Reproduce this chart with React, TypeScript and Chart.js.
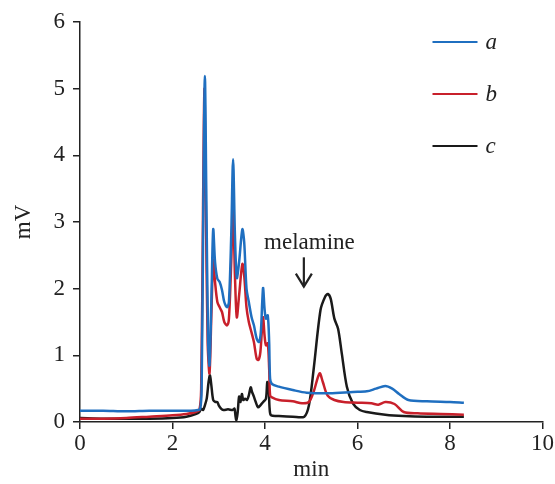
import React, { useEffect, useRef } from "react";
import { Chart, registerables } from "chart.js";

Chart.register(...registerables);

const timeA = [0, 0.5, 1, 1.5, 2, 2.4, 2.55, 2.6, 2.63, 2.67, 2.7, 2.73, 2.77, 2.8, 2.84, 2.88, 2.92, 2.97, 3.02, 3.07, 3.12, 3.18, 3.22, 3.27, 3.31, 3.35, 3.39, 3.44, 3.51, 3.55, 3.6, 3.65, 3.71, 3.76, 3.82, 3.87, 3.91, 3.94, 3.96, 3.99, 4.02, 4.06, 4.09, 4.11, 4.15, 4.3, 4.6, 4.9, 5.4, 5.9, 6.2, 6.4, 6.6, 6.75, 6.9, 7.1, 7.5, 8.0, 8.3];
const valuesA = [0.17, 0.17, 0.16, 0.17, 0.17, 0.17, 0.18, 0.2, 0.5, 3.5, 5.19, 3.5, 1.2, 0.85, 1.8, 2.89, 2.4, 2.15, 2.1, 1.98, 1.8, 1.72, 1.8, 2.8, 3.94, 2.8, 2.16, 2.4, 2.89, 2.7, 2.0, 1.8, 1.57, 1.45, 1.25, 1.2, 1.35, 1.8, 2.01, 1.7, 1.55, 1.6, 1.2, 0.65, 0.57, 0.53, 0.48, 0.44, 0.43, 0.45, 0.46, 0.5, 0.54, 0.5, 0.42, 0.33, 0.31, 0.3, 0.29];

const timeB = [0, 0.5, 1, 1.5, 2, 2.3, 2.5, 2.58, 2.62, 2.66, 2.69, 2.72, 2.76, 2.8, 2.84, 2.88, 2.92, 2.97, 3.02, 3.07, 3.12, 3.18, 3.22, 3.27, 3.31, 3.35, 3.39, 3.44, 3.51, 3.55, 3.6, 3.65, 3.71, 3.76, 3.82, 3.86, 3.9, 3.94, 3.96, 3.99, 4.02, 4.06, 4.09, 4.11, 4.15, 4.3, 4.6, 4.8, 4.95, 5.05, 5.18, 5.25, 5.35, 5.5, 5.7, 6.0, 6.3, 6.45, 6.6, 6.8, 7.0, 7.3, 7.8, 8.3];
const valuesB = [0.05, 0.05, 0.06, 0.08, 0.1, 0.12, 0.15, 0.18, 0.5, 3.2, 5.0, 3.3, 1.2, 0.73, 1.6, 2.43, 2.1, 1.8, 1.72, 1.65, 1.5, 1.45, 1.55, 2.4, 3.25, 2.2, 1.57, 1.9, 2.37, 2.2, 1.72, 1.5, 1.34, 1.2, 0.95, 0.93, 1.05, 1.45, 1.57, 1.3, 1.15, 1.18, 0.8, 0.4, 0.37, 0.33, 0.31, 0.28, 0.3, 0.45, 0.73, 0.6, 0.4, 0.33, 0.3, 0.29, 0.28, 0.26, 0.3, 0.27, 0.15, 0.13, 0.12, 0.11];

const timeC = [0, 0.5, 1, 1.5, 2, 2.3, 2.5, 2.58, 2.62, 2.66, 2.7, 2.74, 2.78, 2.81, 2.84, 2.88, 2.93, 2.97, 3.0, 3.05, 3.1, 3.2, 3.3, 3.34, 3.36, 3.38, 3.41, 3.44, 3.47, 3.5, 3.53, 3.57, 3.61, 3.65, 3.69, 3.72, 3.76, 3.8, 3.85, 3.9, 3.96, 4.02, 4.05, 4.08, 4.1, 4.13, 4.3, 4.6, 4.85, 4.95, 5.05, 5.2, 5.3, 5.36, 5.42, 5.5, 5.58, 5.66, 5.77, 5.9, 6.05, 6.2, 6.6, 7.0, 7.5, 8.3];
const valuesC = [0.06, 0.05, 0.05, 0.05, 0.06, 0.08, 0.12, 0.15, 0.2, 0.18, 0.25, 0.35, 0.6, 0.7, 0.55, 0.33, 0.3, 0.3, 0.25, 0.2, 0.18, 0.19, 0.18, 0.2, 0.1, 0.03, 0.15, 0.38, 0.3, 0.42, 0.33, 0.35, 0.33, 0.4, 0.52, 0.45, 0.38, 0.3, 0.22, 0.25, 0.3, 0.35, 0.6, 0.5, 0.2, 0.1, 0.09, 0.08, 0.08, 0.25, 0.78, 1.68, 1.88, 1.92, 1.85, 1.55, 1.4, 1.03, 0.53, 0.28, 0.18, 0.15, 0.11, 0.09, 0.08, 0.08];

const seriesLabels = ["a", "b", "c"];
const seriesColors = ["#1f6fc0", "#c8202b", "#1a1a1a"];
const xTicks = [0, 2, 4, 6, 8, 10];
const yTicks = [0, 1, 2, 3, 4, 5, 6];
const annotationText = "melamine";
const annotationX = [4.96, 4.84]; // text centre, arrow x (min)
const annotationY = [2.59, 2.47, 2.03]; // text baseline, arrow top, arrow tip (mV)

const FONT = "\"Liberation Serif\", \"Times New Roman\", Times, serif";

const toPoints = (t: number[], v: number[]) => t.map((x, i) => ({ x, y: v[i] }));

const overlayPlugin = {
  id: "overlay",
  afterDraw(chart: any) {
    const ctx = chart.ctx;
    const xs = chart.scales.x;
    const ys = chart.scales.y;
    ctx.save();
    const area = chart.chartArea;
    const lx0 = area.right - 110;
    const lx1 = lx0 + 45;
    seriesLabels.forEach((lab, i) => {
      const y = area.top + 20 + i * 52;
      ctx.strokeStyle = seriesColors[i];
      ctx.lineWidth = 2.2;
      ctx.beginPath();
      ctx.moveTo(lx0, y);
      ctx.lineTo(lx1, y);
      ctx.stroke();
      ctx.fillStyle = "#222";
      ctx.font = "italic 23px " + FONT;
      ctx.textAlign = "left";
      ctx.textBaseline = "middle";
      ctx.fillText(lab, lx1 + 8, y + 1);
    });
    ctx.fillStyle = "#222";
    ctx.font = "23px " + FONT;
    ctx.textAlign = "center";
    ctx.textBaseline = "alphabetic";
    ctx.fillText(annotationText, xs.getPixelForValue(annotationX[0]), ys.getPixelForValue(annotationY[0]));
    const ax = xs.getPixelForValue(annotationX[1]);
    const aTop = ys.getPixelForValue(annotationY[1]);
    const aTip = ys.getPixelForValue(annotationY[2]);
    ctx.strokeStyle = "#222";
    ctx.lineWidth = 2.2;
    ctx.beginPath();
    ctx.moveTo(ax, aTop);
    ctx.lineTo(ax, aTip);
    ctx.stroke();
    ctx.beginPath();
    ctx.moveTo(ax - 8, aTip - 13);
    ctx.lineTo(ax, aTip);
    ctx.lineTo(ax + 8, aTip - 13);
    ctx.stroke();
    ctx.restore();
  },
};

export default function App() {
  const ref = useRef<HTMLCanvasElement | null>(null);
  useEffect(() => {
    document.body.style.margin = "0";
    const series = [
      toPoints(timeA, valuesA),
      toPoints(timeB, valuesB),
      toPoints(timeC, valuesC),
    ];
    const chart = new Chart(ref.current as HTMLCanvasElement, {
      type: "line",
      data: {
        datasets: series.map((d, i) => ({
          label: seriesLabels[i],
          data: d,
          borderColor: seriesColors[i],
          borderWidth: 2.5,
          pointRadius: 0,
          tension: 0.3,
          fill: false,
        })),
      },
      options: {
        animation: false,
        responsive: false,
        maintainAspectRatio: false,
        layout: { padding: { top: 22, right: 10, left: 10, bottom: 0 } },
        plugins: { legend: { display: false }, tooltip: { enabled: false } },
        scales: {
          x: {
            type: "linear",
            min: 0,
            max: 10,
            afterBuildTicks: (s: any) => {
              s.ticks = xTicks.map((v) => ({ value: v }));
            },
            afterFit: (s: any) => {
              s.height = 62;
            },
            grid: { display: true, drawOnChartArea: false, drawTicks: true, tickLength: 7, color: "#222", lineWidth: 1.5 },
            border: { display: true, color: "#222", width: 1.5 },
            ticks: { color: "#222", font: { family: FONT, size: 23 }, padding: 1, maxRotation: 0 },
            title: { display: true, text: "min", color: "#222", font: { family: FONT, size: 23 }, padding: { top: 0, bottom: 0 } },
          },
          y: {
            type: "linear",
            min: 0,
            max: 6,
            afterBuildTicks: (s: any) => {
              s.ticks = yTicks.map((v) => ({ value: v }));
            },
            afterFit: (s: any) => {
              s.width = 70;
            },
            grid: { display: true, drawOnChartArea: false, drawTicks: true, tickLength: 7, color: "#222", lineWidth: 1.5 },
            border: { display: true, color: "#222", width: 1.5 },
            ticks: { color: "#222", font: { family: FONT, size: 23 }, padding: 8 },
            title: { display: true, text: "mV", color: "#222", font: { family: FONT, size: 23 }, padding: { top: 0, bottom: 0 } },
          },
        },
      },
      plugins: [overlayPlugin],
    } as any);
    return () => chart.destroy();
  }, []);
  return (
    <div style={{ width: 555, height: 484 }}>
      <canvas ref={ref} width={555} height={484} style={{ display: "block" }} />
    </div>
  );
}
